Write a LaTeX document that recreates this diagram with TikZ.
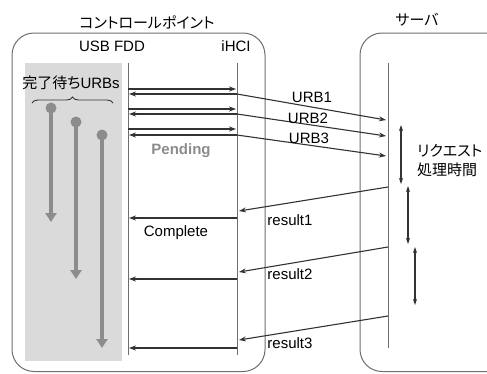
\documentclass[tikz,border=0pt]{standalone}
\usepackage{fontspec}
\setmainfont{Liberation Sans}
\newfontfamily\jpfont[RawFeature={+palt}]{Noto Sans CJK JP}
\usetikzlibrary{arrows.meta,calc,decorations.pathreplacing}
\definecolor{SeqInk}{HTML}{333333}
\definecolor{SeqFrame}{HTML}{6E6E6E}
\definecolor{SeqShade}{HTML}{DADADA}
\definecolor{SeqGray}{HTML}{8C8C8C}

\begin{document}
\begin{tikzpicture}[x=1pt,y=-1pt,
    msg/.style={SeqInk,line width=1.1pt,-{Stealth[length=7pt,width=5pt]}},
    span/.style={SeqInk,line width=1.1pt,{Stealth[length=6pt,width=4pt]}-{Stealth[length=6pt,width=4pt]}},
    life/.style={SeqFrame,line width=1pt},
    frame/.style={SeqFrame,line width=1pt,rounded corners=22pt},
    wait/.style={SeqGray,line width=4pt,-{Triangle[length=9pt,width=11pt]}},
    txt/.style={inner sep=0pt,font=\fontsize{15}{18}\selectfont},
    jtxt/.style={inner sep=0pt,font=\fontsize{15}{19}\selectfont\jpfont}]
  \useasboundingbox (0,0) rectangle (487,373);
  \clip (0,0) rectangle (487,373);

  % boxes
  \draw[frame] (12,33) rectangle (265,371.5);
  \draw[frame] (360,33) rectangle (520,371.5);
  \fill[SeqShade] (25,63) rectangle (122,361);

  \node[jtxt] (cpTitle) at (147,22) {コントロールポイント};
  \node[jtxt] (srvTitle) at (417,20) {サーバ};
  \node[txt] (fddName) at (112,46) {USB FDD};
  \node[txt] (hciName) at (236,46) {iHCI};

  % lifelines
  \coordinate (fddTop) at (128,63);  \coordinate (fddBot) at (128,355);
  \coordinate (hciTop) at (237,63);  \coordinate (hciBot) at (237,355);
  \coordinate (srvTop) at (388,63);  \coordinate (srvBot) at (388,348);
  \draw[life] (fddTop) -- (fddBot);
  \draw[life] (hciTop) -- (hciBot);
  \draw[life] (srvTop) -- (srvBot);

  % URB submit and pending
  \foreach \i/\ya/\yb/\ys in {1/89/94/120,2/109/114/136,3/129/135/156}{
    \coordinate (fo\i) at (128,\ya); \coordinate (ho\i) at (236,\ya);
    \coordinate (hi\i) at (237,\yb); \coordinate (fi\i) at (129,\yb);
    \coordinate (so\i) at (386,\ys);
    \draw[msg] (fo\i) -- (ho\i);
    \draw[msg] (hi\i) -- (fi\i);
    \draw[msg] (hi\i) -- (so\i);
  }
  \node[txt] (urb1) at (312,97) {URB1};
  \node[txt] (urb2) at (308,118) {URB2};
  \node[txt] (urb3) at (309,138) {URB3};
  \node[txt,font=\fontsize{15}{18}\selectfont\bfseries,SeqGray] (pending) at (181,151) {Pending};

  % results back
  \foreach \i/\ys/\yh/\yc in {1/187/211/218,2/247/272/279,3/316/340/348}{
    \coordinate (sr\i) at (388,\ys); \coordinate (hr\i) at (239,\yh);
    \coordinate (hc\i) at (237,\yc); \coordinate (fc\i) at (129,\yc);
    \draw[msg] (sr\i) -- (hr\i);
    \draw[msg] (hc\i) -- (fc\i);
  }
  \node[txt] (complete) at (176,233) {Complete};
  \node[txt] (res1) at (290,220) {result1};
  \node[txt] (res2) at (290,274) {result2};
  \node[txt] (res3) at (290,343) {result3};

  % processing time
  \coordinate (pa1) at (401,125); \coordinate (pb1) at (401,184);
  \coordinate (pa2) at (408,186); \coordinate (pb2) at (408,244);
  \coordinate (pa3) at (415,247); \coordinate (pb3) at (415,305);
  \draw[span] (pa1) -- (pb1);
  \draw[span] (pa2) -- (pb2);
  \draw[span] (pa3) -- (pb3);
  \node[jtxt,anchor=north west,align=left] (proc) at (417,144) {リクエスト\\処理時間};

  % waiting URBs
  \node[txt] (waitLbl) at (71,83) {{\jpfont 完了待ち}URBs};
  \draw[SeqInk,line width=0.9pt,decorate,decoration={brace,amplitude=6pt}]
    (32,103) -- (113,103);
  \foreach \i/\x/\ya/\yb in {1/51/108/222,2/76/122/279,3/102/135/348}{
    \coordinate (wa\i) at (\x,\ya); \coordinate (wb\i) at (\x,\yb);
    \draw[wait] (wa\i) -- (wb\i);
    \fill[SeqGray] (wa\i) circle (5.5pt);
  }
\end{tikzpicture}
\end{document}
